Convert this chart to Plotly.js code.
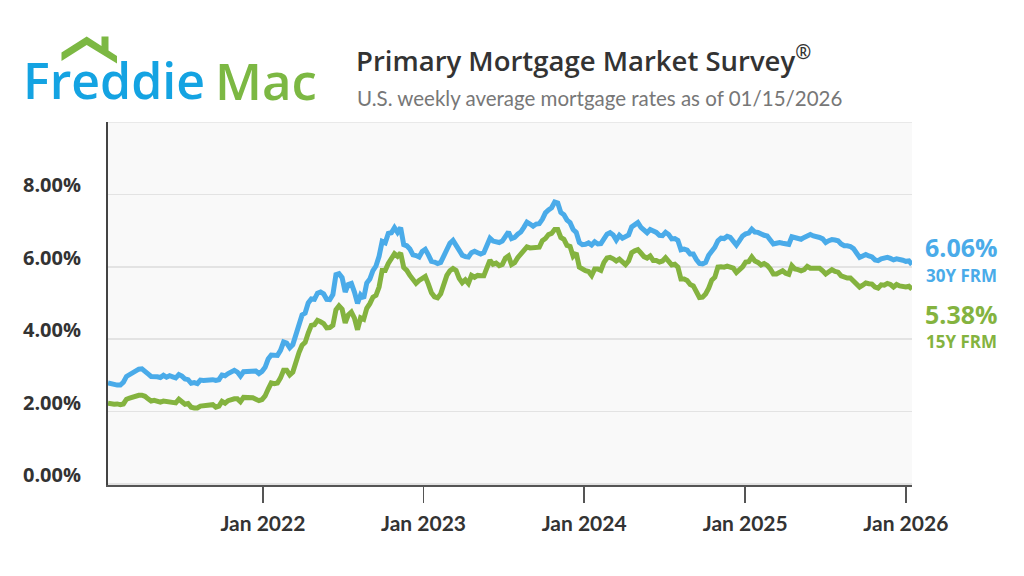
<!DOCTYPE html>
<html>
<head>
<meta charset="utf-8">
<script src="https://cdn.plot.ly/plotly-3.0.1.min.js"></script>
<style>
  html, body { margin: 0; padding: 0; background: #ffffff; }
  #chart { width: 1024px; height: 576px; }
</style>
</head>
<body>
<div id="chart"></div>
<script>
// ---------------- DATA (weekly) ----------------
const firstWeek = '2021-01-14';
const lastWeek = '2026-01-15';
const asOfDate = '01/15/2026';

const rate30y_2021 = [2.79,2.77,2.73, 2.73,2.73,2.81,2.97, 3.02,3.05,3.09,3.17, 3.18,3.13,3.04,2.97,2.98,
  2.96,2.94,3.00,2.95, 2.99,2.96,2.93,3.02, 2.98,2.90,2.88,2.78,2.80, 2.77,2.87,2.86,2.87,
  2.87,2.88,2.86,2.88,3.01, 2.99,3.05,3.09,3.14, 3.09,2.98,3.10,3.10, 3.11,3.10,3.12,3.05,3.11];
const rate30y_2022 = [3.22,3.45,3.56,3.55, 3.55,3.69,3.92,3.89, 3.76,3.85,4.16,4.42,4.67, 4.72,5.00,5.11,5.10,
  5.27,5.30,5.25,5.10, 5.09,5.23,5.78,5.81,5.70, 5.30,5.51,5.54,5.30, 4.99,5.22,5.13,5.55,
  5.66,5.89,6.02,6.29,6.70, 6.66,6.92,6.94,7.08, 6.95,7.08,6.61,6.58, 6.49,6.33,6.31,6.27,6.42];
const rate30y_2023 = [6.48,6.33,6.15,6.13, 6.09,6.12,6.32,6.50, 6.65,6.73,6.60,6.42,6.32, 6.28,6.27,6.39,6.43,
  6.39,6.35,6.39,6.57, 6.79,6.71,6.69,6.67,6.71, 6.81,6.96,6.78,6.81, 6.90,6.96,7.09,7.23,7.18,
  7.12,7.18,7.19,7.31, 7.49,7.57,7.63,7.79, 7.76,7.50,7.44,7.29,7.22, 7.03,6.95,6.67,6.61];
const rate30y_2024 = [6.62,6.66,6.60,6.69, 6.63,6.64,6.77,6.90,6.94, 6.88,6.74,6.87,6.79, 6.82,6.88,7.10,7.17,
  7.22,7.09,7.02,6.94,7.03, 6.99,6.95,6.87,6.86, 6.95,6.89,6.77,6.78, 6.73,6.47,6.49,6.46,6.35,
  6.35,6.20,6.09,6.08, 6.12,6.32,6.44,6.54,6.72, 6.79,6.78,6.84,6.81, 6.69,6.60,6.72,6.85];
const rate30y_2025 = [6.91,6.93,7.04,6.96,6.95, 6.89,6.87,6.85,6.76, 6.63,6.65,6.67,6.65, 6.64,6.62,6.83,6.81,
  6.76,6.76,6.81,6.86,6.89, 6.85,6.84,6.81,6.77, 6.67,6.72,6.75,6.74,6.72, 6.63,6.58,6.58,6.56,
  6.50,6.35,6.26,6.30, 6.34,6.30,6.27,6.19,6.17, 6.22,6.24,6.26,6.23, 6.19,6.22,6.21,6.18,6.15];
const rate30y_2026 = [6.16,6.06];

const rate15y_2021 = [2.23,2.21,2.20, 2.21,2.19,2.21,2.34, 2.37,2.40,2.40,2.45, 2.45,2.42,2.35,2.29,2.31,
  2.30,2.26,2.29,2.27, 2.26,2.23,2.24,2.34, 2.26,2.20,2.22,2.12,2.10, 2.10,2.15,2.16,2.18,
  2.18,2.19,2.12,2.15,2.28, 2.23,2.30,2.33,2.35, 2.35,2.27,2.39,2.39, 2.39,2.38,2.34,2.30,2.33];
const rate15y_2022 = [2.43,2.62,2.79,2.77, 2.79,2.93,3.14,3.14, 3.01,3.09,3.39,3.63,3.83, 3.91,4.17,4.38,4.40,
  4.52,4.48,4.43,4.31, 4.32,4.38,4.81,4.92,4.83, 4.45,4.67,4.75,4.58, 4.26,4.59,4.55,4.85,
  4.98,5.16,5.21,5.44,5.90, 5.90,6.09,6.23,6.36, 6.29,6.38,5.98,5.90, 5.76,5.67,5.54,5.62,5.68];
const rate15y_2023 = [5.73,5.52,5.28,5.17, 5.14,5.25,5.51,5.76, 5.89,5.95,5.90,5.68,5.56, 5.64,5.54,5.76,5.71,
  5.76,5.75,5.75,5.97, 6.18,6.07,6.10,6.03,6.06, 6.24,6.30,6.06,6.11, 6.25,6.34,6.46,6.55,6.52,
  6.52,6.51,6.54,6.72, 6.78,6.89,6.92,7.03, 7.03,6.81,6.76,6.59,6.56, 6.29,6.38,5.99,5.93];
const rate15y_2024 = [5.89,5.87,5.76,5.94, 5.94,5.90,6.12,6.24,6.26, 6.22,6.16,6.21,6.11, 6.06,6.16,6.39,6.44,
  6.47,6.38,6.28,6.24,6.30, 6.17,6.17,6.13,6.16, 6.25,6.17,6.05,6.07, 5.99,5.66,5.66,5.62,5.51,
  5.47,5.27,5.15,5.16, 5.25,5.41,5.63,5.71,5.99, 6.00,5.99,6.02,6.00, 5.96,5.84,5.92,6.00];
const rate15y_2025 = [6.13,6.14,6.27,6.16,6.12, 6.05,6.09,6.04,5.94, 5.80,5.80,5.83,5.89, 5.82,5.79,6.03,5.94,
  5.92,5.89,5.92,6.01,5.96, 5.97,5.97,5.96,5.89, 5.80,5.86,5.92,5.87,5.85, 5.75,5.71,5.69,5.69,
  5.60,5.50,5.44,5.49, 5.55,5.53,5.52,5.44,5.41, 5.50,5.49,5.54,5.51, 5.44,5.51,5.47,5.44,5.44];
const rate15y_2026 = [5.46,5.38];

const rate30y = [].concat(rate30y_2021, rate30y_2022, rate30y_2023, rate30y_2024, rate30y_2025, rate30y_2026);
const rate15y = [].concat(rate15y_2021, rate15y_2022, rate15y_2023, rate15y_2024, rate15y_2025, rate15y_2026);

const seriesNames = ['30Y FRM', '15Y FRM'];
const xTickDates = ['2022-01-01', '2023-01-01', '2024-01-01', '2025-01-01', '2026-01-01'];
const xTickLabels = ['Jan 2022', 'Jan 2023', 'Jan 2024', 'Jan 2025', 'Jan 2026'];
const yTickVals = [0, 2, 4, 6, 8];
const yTickLabels = ['0.00%', '2.00%', '4.00%', '6.00%', '8.00%'];
const yTop = 10;

// ---------------- STYLE / LAYOUT ----------------
const BLUE = '#4aabe9';
const GREEN = '#84b33f';
const LOGO_BLUE = '#14a3e2';
const LOGO_GREEN = '#7cb843';

const L = 108, R = 912, T = 122, B = 485;
const px = p => (p - L) / (R - L);
const py = p => (B - p) / (B - T);

const WEEK_MS = 7 * 24 * 3600 * 1000;

const traces = [
  { type: 'scatter', mode: 'lines', name: seriesNames[0], x0: firstWeek, dx: WEEK_MS, y: rate30y,
    line: { color: BLUE, width: 5, shape: 'linear' }, hoverinfo: 'skip' },
  { type: 'scatter', mode: 'lines', name: seriesNames[1], x0: firstWeek, dx: WEEK_MS, y: rate15y,
    line: { color: GREEN, width: 5, shape: 'linear' }, hoverinfo: 'skip' }
];

const roofPts = [[61.5,52.5],[86.7,36.5],[101.5,46],[101.5,36.5],[108.5,36.5],[108.5,50.5],[117,56],[117,63.5],[86.7,45],[61.5,61]];
const roofPath = 'M ' + roofPts.map(p => px(p[0]).toFixed(5) + ',' + py(p[1]).toFixed(5)).join(' L ') + ' Z';

const last30 = rate30y[rate30y.length - 1].toFixed(2) + '%';
const last15 = rate15y[rate15y.length - 1].toFixed(2) + '%';

function ann(text, xPix, yPix, size, color, family, weight) {
  return { text: text, xref: 'paper', yref: 'paper', x: px(xPix), y: py(yPix),
    xanchor: 'left', yanchor: 'middle', showarrow: false, borderpad: 0,
    font: { size: size, color: color, family: family, weight: weight } };
}

const layout = {
  width: 1024, height: 576,
  margin: { l: L, r: 1024 - R, t: T, b: 576 - B },
  paper_bgcolor: '#ffffff',
  plot_bgcolor: '#f9f9f9',
  showlegend: false,
  xaxis: {
    type: 'date',
    range: [firstWeek, lastWeek],
    showgrid: false, zeroline: false,
    showline: true, linecolor: '#555555', linewidth: 2,
    ticks: 'outside', ticklen: 16, tickwidth: 1.5, tickcolor: '#555555',
    tickvals: xTickDates, ticktext: xTickLabels,
    tickfont: { family: 'Lato', size: 21, color: '#333333', weight: 700 },
    ticklabelstandoff: 3
  },
  yaxis: {
    range: [-0.03, yTop],
    showgrid: true, gridcolor: '#e3e3e3', gridwidth: 1.5,
    zeroline: false,
    showline: true, linecolor: '#444444', linewidth: 2,
    ticks: '',
    tickvals: yTickVals, ticktext: yTickLabels,
    tickfont: { family: 'Open Sans', size: 20, color: '#333333', weight: 700 },
    ticklabelstandoff: 21,
    ticklabelshift: -9
  },
  shapes: [
    { type: 'line', xref: 'paper', x0: 0, x1: 1, yref: 'y', y0: yTop, y1: yTop,
      line: { color: '#e3e3e3', width: 1.5 }, layer: 'below' },
    { type: 'path', xref: 'paper', yref: 'paper', path: roofPath, fillcolor: LOGO_GREEN, line: { width: 0 } }
  ],
  annotations: [
    ann('Freddie', 22, 80, 50, LOGO_BLUE, 'Open Sans', 600),
    ann('Mac', 214, 80, 51, LOGO_GREEN, 'Open Sans', 600),
    ann('Primary Mortgage Market Survey<sup>®</sup>', 355, 59, 27.5, '#333333', 'Open Sans', 600),
    ann('U.S. weekly average mortgage rates as of ' + asOfDate, 356, 98, 20.5, '#777777', 'Lato', 400),
    ann(last30, 924, 247, 25, BLUE, 'Open Sans', 700),
    ann(seriesNames[0], 925, 275, 17, BLUE, 'Open Sans', 700),
    ann(last15, 924, 314, 25, GREEN, 'Open Sans', 700),
    ann(seriesNames[1], 925, 341, 17, GREEN, 'Open Sans', 700)
  ]
};

Plotly.newPlot('chart', traces, layout, { staticPlot: true, displayModeBar: false });
</script>
</body>
</html>
